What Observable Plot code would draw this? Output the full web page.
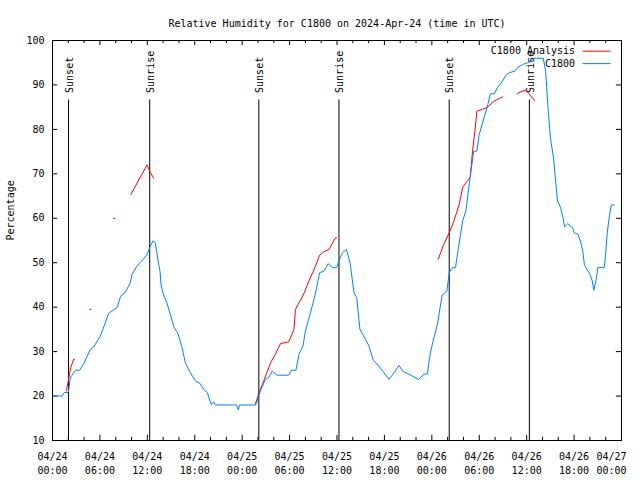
<!DOCTYPE html>
<html><head><meta charset="utf-8">
<script src="https://cdn.jsdelivr.net/npm/d3@7"></script>
<script src="https://cdn.jsdelivr.net/npm/@observablehq/plot@0.6"></script>
<style>body{margin:0;background:#fff} svg{display:block}</style>
</head><body><div id="chart"></div>
<script>
// ---- data (hours since 2024-04-24 00:00 UTC) ----
const title = "Relative Humidity for C1800 on 2024-Apr-24 (time in UTC)";
const yLabel = "Percentage";
const seriesNames = ["C1800 Analysis", "C1800"];
const seriesColors = ["#ff0000", "#0080ff"];

const obsHours = [0.1,1.2,1.5,2.0,2.25,2.9,3.4,3.9,4.8,5.2,6.05,6.5,7.1,8.2,8.6,9.2,9.85,10.07,10.7,11.5,11.97,12.3,12.7,13.0,13.2,13.4,13.6,13.75,14.1,14.4,14.9,15.4,15.85,16.4,16.8,17.45,18.1,18.7,19.1,19.6,19.8,20.1,20.4,20.6,23.3,23.5,23.7,25.7,25.9,26.3,26.95,27.4,27.8,28.4,29.9,30.2,30.8,31.2,31.7,32.0,32.7,33.3,33.8,34.35,34.9,35.4,35.95,36.25,36.7,37.2,37.65,38.15,38.5,38.9,39.6,40.05,40.6,41.3,41.95,42.6,43.2,43.85,44.3,45.1,45.75,46.3,47.0,47.45,47.7,48.1,48.7,49.3,49.9,50.2,50.6,51.0,51.3,51.9,52.3,52.6,52.95,53.3,53.7,54.0,54.6,55.05,55.4,55.9,56.3,56.8,57.4,57.8,58.5,58.9,59.5,60.1,60.8,60.9,62.1,62.4,62.7,63.0,63.4,63.7,63.9,64.3,64.6,64.8,65.2,65.8,66.0,66.5,66.8,67.1,67.3,67.75,68.0,68.3,68.5,68.8,69.0,69.8,69.95,70.2,70.5,70.7,71.1];
const obsValues = [20.0,20.0,20.8,20.8,24.1,25.8,25.8,27.1,30.5,31.0,33.5,35.6,38.6,40.0,42.4,43.3,45.5,47.4,49.3,50.8,51.9,53.4,54.9,54.5,52.3,50.0,48.1,44.8,42.5,41.4,38.4,35.4,34.2,30.9,27.5,25.2,23.4,22.8,21.5,20.75,19.6,18.1,18.7,18.0,18.0,16.9,18.0,18.0,18.9,21.1,23.8,24.3,25.6,24.7,24.7,25.8,25.8,29.4,31.3,34.6,39.1,43.3,47.75,48.1,49.8,48.9,48.9,50.4,52.3,53.0,50.0,43.3,42.1,35.0,32.8,31.25,28.0,26.75,25.2,23.75,25.2,26.9,25.6,24.9,24.3,23.75,24.9,25.0,28.6,32.0,36.1,42.7,43.6,47.75,48.9,48.9,52.6,59.4,61.6,65.75,70.6,75.1,75.1,78.9,82.6,85.3,88.0,88.0,89.4,90.5,92.2,92.75,93.1,94.0,94.6,95.0,95.4,96.0,96.0,93.1,84.9,78.1,73.6,67.6,63.9,62.4,60.1,58.1,58.8,57.9,56.75,56.4,54.9,52.6,49.6,48.1,47.4,45.9,43.8,46.3,48.9,48.9,51.1,56.75,60.9,63.0,63.0];

// analysis series, NaN marks a gap
const anaHours = [1.74,2.0,2.3,2.67,2.8, 3.5, 4.7,4.9, 6.0, 7.7,7.9, 8.5, 9.93,11.96,12.4,12.8, 20.0, 25.65,26.1,26.75,27.6,28.2,28.85,29.9,30.55,30.75,31.2,31.8,32.45,33.1,33.8,34.35,35.0,35.8,35.95, 42.0, 48.8,49.5,50.2,50.8,51.45,51.9,52.4,52.85,53.0,53.15,53.45,53.7,54.4,55.05,55.9,56.96, 58.0, 58.8,59.3,59.9,60.3,61.0];
const anaValues = [21.1,23.4,26.4,28.25,28.3, NaN, 39.5,39.5, NaN, 60.0,60.0, NaN, 65.4,72.0,70.25,69.0, NaN, 18.1,20.5,23.5,27.5,29.4,31.8,32.2,35.0,39.5,41.0,43.0,45.9,48.5,51.7,52.5,53.0,55.6,55.6, NaN, 50.75,54.1,56.75,59.4,63.1,66.9,68.2,69.1,72.1,75.1,79.6,84.1,84.5,85.0,86.4,87.3, NaN, 88.0,88.5,88.8,88.0,86.5];

const eventHours = [2.03, 12.30, 26.11, 36.25, 50.2, 60.34];
const eventLabels = ["Sunset", "Sunrise", "Sunset", "Sunrise", "Sunset", "Sunrise"];

const yTicks = [10,20,30,40,50,60,70,80,90,100];
const xLabelHours = [0,6,12,18,24,30,36,42,48,54,60,66];
const xLastLabelHours = [72];
const xTickHours = d3.range(0, 73, 2);

// ---- build ----
const start = Date.UTC(2024, 3, 24);
const t = h => new Date(start + h * 3600e3);
const obs = obsHours.map((h, i) => ({time: t(h), value: obsValues[i]}));
const ana = anaHours.map((h, i) => ({time: t(h), value: anaValues[i]}));
const events = eventHours.map((h, i) => ({time: t(h), label: eventLabels[i]}));
const fmt = d => d3.utcFormat("%m/%d")(d) + "\n" + d3.utcFormat("%H:%M")(d);
const legend = seriesNames.map((n, i) => ({name: n, color: seriesColors[i], row: i}));
const legendY = [97.6, 94.8];

const chart = Plot.plot({
  width: 640, height: 480,
  marginLeft: 52, marginRight: 19, marginTop: 40, marginBottom: 40,
  style: {fontFamily: "'DejaVu Sans Mono', monospace", fontSize: "10px", background: "#fff", color: "#000"},
  x: {type: "utc", domain: [t(0), t(72)]},
  y: {domain: [10, 100]},
  marks: [
    Plot.frame({stroke: "#000"}),
    // inward ticks
    Plot.ruleX(xTickHours, {x: h => t(h), y1: 10, y2: h => 10 + (h % 6 === 0 ? 1.15 : 0.7), stroke: "#000"}),
    Plot.ruleX(xTickHours, {x: h => t(h), y1: 100, y2: h => 100 - (h % 6 === 0 ? 1.15 : 0.7), stroke: "#000"}),
    Plot.ruleY(yTicks, {y: d => d, x1: t(0), x2: t(0.65), stroke: "#000"}),
    Plot.ruleY(yTicks, {y: d => d, x1: t(72), x2: t(71.35), stroke: "#000"}),
    Plot.axisY({ticks: yTicks, tickSize: 0, tickPadding: 8, label: null}),
    Plot.axisX({ticks: xLabelHours.map(t), tickSize: 0, tickPadding: 10, tickFormat: fmt, lineHeight: 1.4, label: null}),
    Plot.axisX({ticks: xLastLabelHours.map(t), tickSize: 0, tickPadding: 10, tickFormat: fmt, lineHeight: 1.4, label: null, dx: -10}),
    // sunrise / sunset
    Plot.ruleX(events, {x: "time", y1: 10, y2: 86.6, stroke: "#000"}),
    Plot.text(events, {x: "time", y: 88.2, text: "label", rotate: -90, textAnchor: "start", lineAnchor: "middle", dx: 1, fill: "#000"}),
    // series
    Plot.line(ana, {x: "time", y: "value", stroke: seriesColors[0], strokeWidth: 1}),
    Plot.line(obs, {x: "time", y: "value", stroke: seriesColors[1], strokeWidth: 1}),
    // legend
    Plot.text(legend, {x: t(66.13), y: d => legendY[d.row], text: "name", textAnchor: "end", fill: "#000"}),
    Plot.ruleY(legend, {y: d => legendY[d.row], x1: t(67.14), x2: t(70.69), stroke: "color"}),
    // title and y label
    Plot.text([title], {frameAnchor: "top", dy: -21, text: d => d, fill: "#000"}),
    Plot.text([yLabel], {frameAnchor: "left", dx: -42, rotate: -90, text: d => d, fill: "#000"})
  ]
});
document.getElementById("chart").append(chart);
</script>
</body></html>
